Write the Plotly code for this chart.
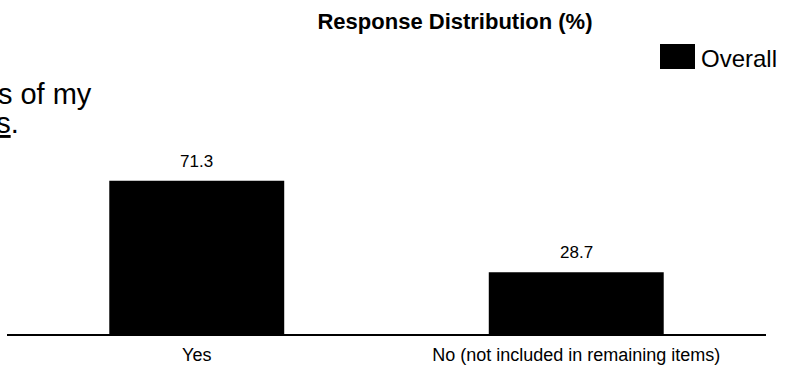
import plotly.graph_objects as go

categories = ["Yes", "No (not included in remaining items)"]
values = [71.3, 28.7]
series_name = "Overall"
title_text = "Response Distribution (%)"
question_line1 = "meets the needs of my"
question_line2 = "<u>students</u>."

FONT = "Liberation Sans, Arial, sans-serif"
W, H = 785, 366
ML, MR, MT, MB = 7, 19, 119, 32

fig = go.Figure()
fig.add_trace(go.Bar(
    x=categories, y=values, name=series_name,
    marker=dict(color="#000000", line=dict(width=0)),
    showlegend=False, hoverinfo="x+y",
))

# value labels above bars
for c, v in zip(categories, values):
    fig.add_annotation(x=c, y=v, text=f"{v:.1f}", showarrow=False,
                       yanchor="bottom", yshift=8,
                       font=dict(family=FONT, size=17, color="#000000"))

def px_x(p):
    return (p - ML) / (W - ML - MR)

def px_y(p):
    return (H - MB - p) / (H - MT - MB)

# cropped question text on the left
fig.add_annotation(x=px_x(93), y=px_y(104), xref="paper", yref="paper",
                   text=question_line1, showarrow=False, xanchor="right", yanchor="bottom",
                   yshift=-7, borderpad=0, font=dict(family=FONT, size=29, color="#000000"))
fig.add_annotation(x=px_x(20), y=px_y(133), xref="paper", yref="paper",
                   text=question_line2, showarrow=False, xanchor="right", yanchor="bottom",
                   yshift=-7, borderpad=0, font=dict(family=FONT, size=29, color="#000000"))

# legend (custom, large swatch)
fig.add_shape(type="rect", xref="paper", yref="paper",
              x0=px_x(660), x1=px_x(695), y0=px_y(69), y1=px_y(44),
              fillcolor="#000000", line=dict(width=0))
fig.add_annotation(x=px_x(699), y=px_y(58), xref="paper", yref="paper",
                   text=series_name, showarrow=False, xanchor="left", yanchor="middle",
                   font=dict(family=FONT, size=24, color="#000000"))

fig.update_layout(
    width=W, height=H,
    margin=dict(l=ML, r=MR, t=MT, b=MB, pad=0, autoexpand=False),
    paper_bgcolor="#ffffff", plot_bgcolor="#ffffff",
    title=dict(text=f"<b>{title_text}</b>", x=455 / W, xref="container", xanchor="center",
               y=1 - 21 / H, yref="container", yanchor="middle",
               font=dict(family=FONT, size=22, color="#000000")),
    bargap=0.539,
    font=dict(family=FONT, color="#000000"),
    xaxis=dict(showline=True, linecolor="#000000", linewidth=2, ticks="",
               showgrid=False, zeroline=False, ticklabelstandoff=3, automargin=False,
               tickfont=dict(family=FONT, size=18, color="#000000")),
    yaxis=dict(range=[0, 100], visible=False, showgrid=False, zeroline=False,
               automargin=False),
)

fig.write_html("out.html")
